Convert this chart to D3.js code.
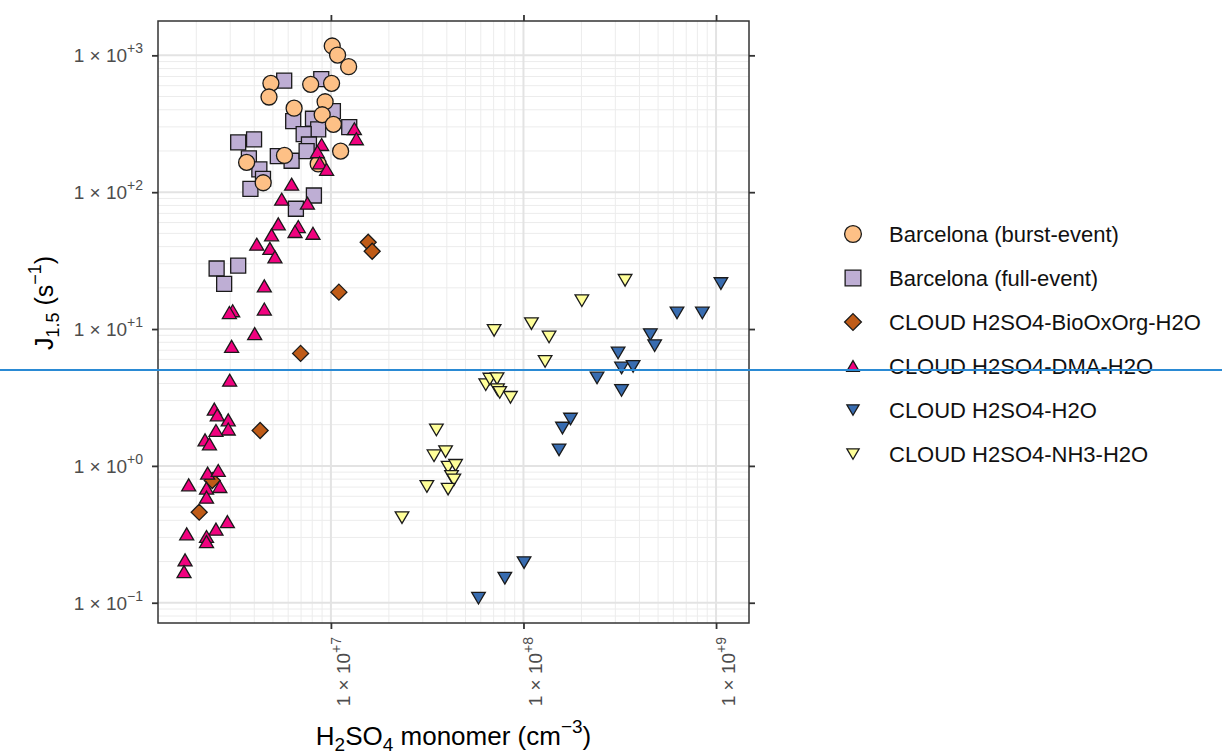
<!DOCTYPE html>
<html>
<head>
<meta charset="utf-8">
<script src="https://cdn.jsdelivr.net/npm/d3@7"></script>
<style>
  body { margin: 0; background: #fff; }
  svg { display: block; font-family: "Liberation Sans", Arial, Helvetica, sans-serif; }
</style>
</head>
<body>
<svg id="chart" width="1222" height="754"></svg>
<script>
// ---- data: H2SO4 monomer concentration (cm^-3) and J1.5 (s^-1) ----
const burstH2SO4 = [1.016e7, 1.083e7, 1.236e7, 4.88e6, 4.77e6, 7.85e6, 1.008e7, 6.44e6, 9.33e6, 9.01e6, 1.03e7, 1.123e7, 5.74e6, 3.65e6, 8.59e6, 4.45e6];
const burstJ     = [1170, 1005, 826, 624, 496, 614, 624, 411, 458, 368, 313, 199.5, 185.6, 165, 160.8, 117.2];

const fullH2SO4 = [5.72e6, 8.91e6, 1.024e7, 6.37e6, 8.07e6, 8.59e6, 1.245e7, 7.22e6, 3.30e6, 3.99e6, 7.69e6, 5.30e6, 6.25e6, 7.48e6, 3.75e6, 4.25e6, 4.44e6, 3.82e6, 8.16e6, 6.58e6, 2.55e6, 3.30e6, 2.79e6];
const fullJ     = [654, 671, 391, 331, 344, 287.5, 299, 266, 231, 243, 223, 183.4, 169.7, 199.5, 176.4, 146.6, 125.3, 105.9, 94.6, 75.7, 27.7, 29.1, 21.4];

const bioH2SO4 = [1.562e7, 1.638e7, 1.10e7, 6.96e6, 4.29e6, 2.42e6, 2.07e6];
const bioJ     = [43.1, 37.0, 18.6, 6.64, 1.815, 0.782, 0.459];

const dmaH2SO4 = [1.324e7, 1.356e7, 8.95e6, 8.51e6, 8.74e6, 9.50e6, 6.25e6, 5.55e6, 7.55e6, 5.33e6, 6.77e6, 6.51e6, 8.07e6, 4.92e6, 4.12e6, 4.82e6, 5.12e6, 4.51e6, 3.09e6, 2.97e6, 4.51e6, 4.02e6, 3.05e6, 2.98e6, 2.48e6, 2.57e6, 2.93e6, 2.93e6, 2.53e6, 2.22e6, 2.34e6, 2.29e6, 2.60e6, 1.826e6, 2.26e6, 2.65e6, 2.26e6, 2.90e6, 2.53e6, 1.783e6, 2.26e6, 2.26e6, 1.748e6, 1.727e6];
const dmaJ     = [291, 245.8, 223, 197.5, 164, 146.6, 114.4, 88.9, 83.1, 58.7, 56.1, 51.6, 50.1, 48.8, 41.7, 38.9, 33.7, 20.7, 13.6, 13.2, 14.0, 9.26, 7.47, 4.23, 2.60, 2.36, 2.17, 1.86, 1.815, 1.55, 1.45, 0.886, 0.926, 0.727, 0.688, 0.707, 0.591, 0.392, 0.345, 0.319, 0.305, 0.280, 0.2056, 0.169];

const binH2SO4 = [1.06e9, 6.27e8, 8.49e8, 4.56e8, 4.80e8, 3.10e8, 3.23e8, 3.71e8, 2.41e8, 3.23e8, 1.754e8, 1.594e8, 1.53e8, 1.007e8, 8.0e7, 5.84e7];
const binJ     = [21.5, 13.1, 13.1, 9.10, 7.56, 6.69, 5.19, 5.34, 4.39, 3.56, 2.20, 1.89, 1.31, 0.1965, 0.151, 0.108];

const nh3H2SO4 = [3.37e8, 2.01e8, 7.04e7, 1.10e8, 1.358e8, 1.295e8, 6.37e7, 6.69e7, 7.29e7, 7.33e7, 7.53e7, 8.56e7, 3.53e7, 3.43e7, 3.94e7, 4.06e7, 4.44e7, 4.23e7, 4.35e7, 3.15e7, 4.06e7, 2.34e7];
const nh3J     = [22.7, 16.1, 9.78, 10.95, 8.75, 5.80, 3.92, 4.31, 4.34, 3.60, 3.44, 3.17, 1.83, 1.186, 1.272, 0.98, 1.01, 0.839, 0.791, 0.707, 0.677, 0.419];

const seriesLabels = ["Barcelona (burst-event)", "Barcelona (full-event)", "CLOUD H2SO4-BioOxOrg-H2O", "CLOUD H2SO4-DMA-H2O", "CLOUD H2SO4-H2O", "CLOUD H2SO4-NH3-H2O"];
const seriesColors = ["#FDC086", "#BEAED4", "#BF5B17", "#F0027F", "#386CB0", "#FFFF99"];
const seriesShapes = ["circle", "square", "diamond", "triangleUp", "triangleDown", "triangleDown"];

const xTicks = [1e7, 1e8, 1e9];
const xTickExp = ["+7", "+8", "+9"];
const yTicks = [1e-1, 1e0, 1e1, 1e2, 1e3];
const yTickExp = ["\u22121", "+0", "+1", "+2", "+3"];
const xLimits = [1.265e6, 1.483e9];
const yLimits = [0.07112, 1782];

// ---- layout ----
const svg = d3.select("#chart");
const panel = { left: 158, right: 749, top: 21, bottom: 623 };

const x = d3.scaleLog().domain(xLimits).range([panel.left, panel.right]);
const y = d3.scaleLog().domain(yLimits).range([panel.bottom, panel.top]);

// grid lines: decades (major) and 2..9 multiples (minor)
function logGrid(lim) {
  const minor = [], major = [];
  const lo = Math.floor(Math.log10(lim[0])), hi = Math.ceil(Math.log10(lim[1]));
  for (let e = lo; e <= hi; e++) {
    for (let k = 1; k <= 9; k++) {
      const v = k * Math.pow(10, e);
      if (v < lim[0] || v > lim[1]) continue;
      (k === 1 ? major : minor).push(v);
    }
  }
  return { minor, major };
}
const gx = logGrid(xLimits), gy = logGrid(yLimits);

const grid = svg.append("g");
grid.selectAll(".vminor").data(gx.minor).join("line")
  .attr("x1", d => x(d)).attr("x2", d => x(d)).attr("y1", panel.top).attr("y2", panel.bottom)
  .attr("stroke", "#ececec").attr("stroke-width", 1);
grid.selectAll(".hminor").data(gy.minor).join("line")
  .attr("y1", d => y(d)).attr("y2", d => y(d)).attr("x1", panel.left).attr("x2", panel.right)
  .attr("stroke", "#ececec").attr("stroke-width", 1);
grid.selectAll(".vmajor").data(gx.major).join("line")
  .attr("x1", d => x(d)).attr("x2", d => x(d)).attr("y1", panel.top).attr("y2", panel.bottom)
  .attr("stroke", "#e3e3e3").attr("stroke-width", 2);
grid.selectAll(".hmajor").data(gy.major).join("line")
  .attr("y1", d => y(d)).attr("y2", d => y(d)).attr("x1", panel.left).attr("x2", panel.right)
  .attr("stroke", "#e3e3e3").attr("stroke-width", 2);

// marker shapes (sizes in px)
function shapePath(shape, s) {
  switch (shape) {
    case "circle": {
      const r = 8 * s;
      return `M${-r},0A${r},${r} 0 1,0 ${r},0A${r},${r} 0 1,0 ${-r},0Z`;
    }
    case "square": {
      const h = 7.5 * s;
      return `M${-h},${-h}H${h}V${h}H${-h}Z`;
    }
    case "diamond": {
      const h = 8 * s;
      return `M0,${-h}L${h},0L0,${h}L${-h},0Z`;
    }
    case "triangleUp": {
      const w = 7 * s, h = 6 * s;
      return `M0,${-h}L${w},${h}L${-w},${h}Z`;
    }
    case "triangleDown": {
      const w = 6.8 * s, h = 5.8 * s;
      return `M0,${h}L${w},${-h}L${-w},${-h}Z`;
    }
  }
}

const seriesData = [
  { i: 1, xs: fullH2SO4, ys: fullJ },
  { i: 0, xs: burstH2SO4, ys: burstJ },
  { i: 2, xs: bioH2SO4, ys: bioJ },
  { i: 3, xs: dmaH2SO4, ys: dmaJ },
  { i: 4, xs: binH2SO4, ys: binJ },
  { i: 5, xs: nh3H2SO4, ys: nh3J }
];

const pts = svg.append("g");
seriesData.forEach(s => {
  const rows = s.xs.map((v, k) => ({ x: v, y: s.ys[k] }));
  pts.append("g").selectAll("path").data(rows).join("path")
    .attr("transform", d => `translate(${x(d.x)},${y(d.y)})`)
    .attr("d", shapePath(seriesShapes[s.i], 1))
    .attr("fill", seriesColors[s.i])
    .attr("stroke", "#1a1a1a")
    .attr("stroke-width", 1.3);
});

// panel border
svg.append("rect")
  .attr("x", panel.left).attr("y", panel.top)
  .attr("width", panel.right - panel.left).attr("height", panel.bottom - panel.top)
  .attr("fill", "none").attr("stroke", "#333").attr("stroke-width", 1.5);

// ticks on all four sides
function styleAxis(g) {
  g.select(".domain").remove();
  g.selectAll(".tick line").attr("stroke", "#333").attr("stroke-width", 1.8);
  g.selectAll(".tick text").remove();
}
svg.append("g").attr("transform", `translate(${panel.left},0)`)
  .call(d3.axisLeft(y).tickValues(yTicks).tickSize(6).tickFormat(() => "")).call(styleAxis);
svg.append("g").attr("transform", `translate(${panel.right},0)`)
  .call(d3.axisRight(y).tickValues(yTicks).tickSize(6).tickFormat(() => "")).call(styleAxis);
svg.append("g").attr("transform", `translate(0,${panel.bottom})`)
  .call(d3.axisBottom(x).tickValues(xTicks).tickSize(6).tickFormat(() => "")).call(styleAxis);
svg.append("g").attr("transform", `translate(0,${panel.top})`)
  .call(d3.axisTop(x).tickValues(xTicks).tickSize(6).tickFormat(() => "")).call(styleAxis);

// tick labels "1 × 10^e"
function sciLabel(t, exp) {
  t.append("tspan").text("1 \u00D7 10");
  t.append("tspan").attr("font-size", "14px").attr("dy", "-9").text(exp);
}
const tickFont = "19px";
yTicks.forEach((v, k) => {
  const t = svg.append("text")
    .attr("x", 143).attr("y", y(v) + 7)
    .attr("text-anchor", "end")
    .attr("font-size", tickFont).attr("fill", "#4d4d4d");
  sciLabel(t, yTickExp[k]);
});
xTicks.forEach((v, k) => {
  const t = svg.append("text")
    .attr("transform", `translate(${x(v) + 19},${panel.bottom + 14}) rotate(-90)`)
    .attr("text-anchor", "end")
    .attr("font-size", tickFont).attr("fill", "#4d4d4d");
  sciLabel(t, xTickExp[k]);
});

// axis titles
const xt = svg.append("text")
  .attr("x", (panel.left + panel.right) / 2).attr("y", 745)
  .attr("text-anchor", "middle").attr("font-size", "26px").attr("fill", "#000");
xt.append("tspan").text("H");
xt.append("tspan").attr("font-size", "19px").attr("dy", 6).text("2");
xt.append("tspan").attr("dy", -6).text("SO");
xt.append("tspan").attr("font-size", "19px").attr("dy", 6).text("4");
xt.append("tspan").attr("dy", -6).text(" monomer (cm");
xt.append("tspan").attr("font-size", "19px").attr("dy", -12).text("\u22123");
xt.append("tspan").attr("dy", 12).text(")");

const yt = svg.append("text")
  .attr("transform", `translate(53,303) rotate(-90)`)
  .attr("text-anchor", "middle").attr("font-size", "25px").attr("fill", "#000");
yt.append("tspan").text("J");
yt.append("tspan").attr("font-size", "18px").attr("dy", 6).text("1.5");
yt.append("tspan").attr("dy", -6).text(" (s");
yt.append("tspan").attr("font-size", "18px").attr("dy", -12).text("\u22121");
yt.append("tspan").attr("dy", 12).text(")");

// legend
const legendRows = [234, 278, 322, 366, 410, 454];
const lg = svg.append("g");
seriesLabels.forEach((label, k) => {
  const sc = seriesShapes[k].startsWith("triangle") ? 0.9 : 1.05;
  lg.append("path")
    .attr("transform", `translate(853,${legendRows[k]})`)
    .attr("d", shapePath(seriesShapes[k], sc))
    .attr("fill", seriesColors[k]).attr("stroke", "#1a1a1a").attr("stroke-width", 1.3);
  lg.append("text")
    .attr("x", 889).attr("y", legendRows[k] + 8)
    .attr("font-size", "22px").attr("fill", "#111").text(label);
});

// horizontal reference rule across the figure
svg.append("line")
  .attr("x1", 0).attr("x2", 1222).attr("y1", 370).attr("y2", 370)
  .attr("stroke", "#2a8ad4").attr("stroke-width", 2);
</script>
</body>
</html>
